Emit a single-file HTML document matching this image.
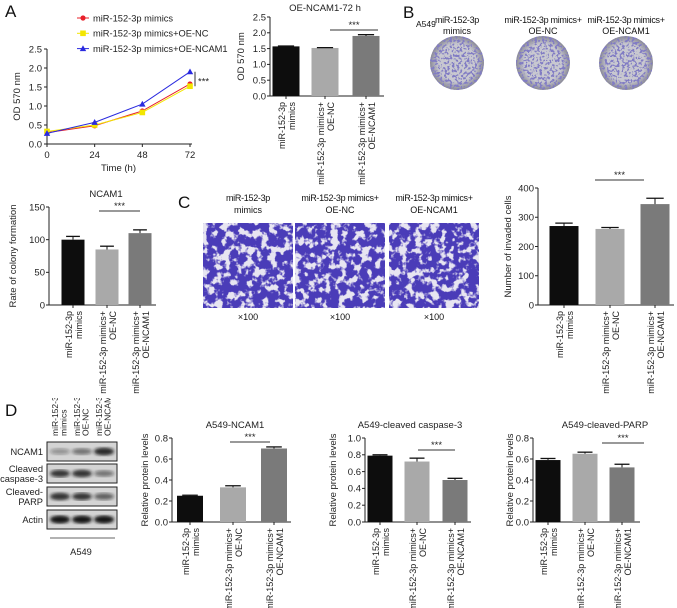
<!DOCTYPE html>
<html><head><meta charset="utf-8"><style>
body{margin:0;background:#fff}
svg{display:block;font-family:"Liberation Sans",Arial,sans-serif}
</style></head><body>
<svg id="fig" width="677" height="608" viewBox="0 0 677 608" xmlns="http://www.w3.org/2000/svg">
<defs>
<filter id="inv" x="0" y="0" width="100%" height="100%">
<feTurbulence type="fractalNoise" baseFrequency="0.13" numOctaves="3" seed="4"/>
<feColorMatrix type="matrix" values="0 0 0 0 0.80  0 0 0 0 0.78  0 0 0 0 0.88  0 0 0 8 -3.9"/>
</filter>
<filter id="dots" x="0" y="0" width="100%" height="100%">
<feTurbulence type="fractalNoise" baseFrequency="0.4" numOctaves="2" seed="7"/>
<feColorMatrix type="matrix" values="0 0 0 0 0.22  0 0 0 0 0.2  0 0 0 0 0.55  0 0 0 12 -6.2"/>
</filter>
<filter id="blur"><feGaussianBlur stdDeviation="1.6"/></filter>
<radialGradient id="dish"><stop offset="0.7" stop-color="#c8c8d0"/><stop offset="1" stop-color="#8a8a96"/></radialGradient>
<clipPath id="c1"><circle cx="457" cy="63" r="27"/></clipPath>
<clipPath id="c2"><circle cx="543" cy="63" r="27"/></clipPath>
<clipPath id="c3"><circle cx="626" cy="63" r="27"/></clipPath>
<clipPath id="blotlab"><rect x="40" y="398" width="90" height="40"/></clipPath>
</defs>
<g id="root"></g>
</svg>
<script>
// ---- data ----
const timeCats = [0, 24, 48, 72];
const lineMimics = [0.30, 0.48, 0.87, 1.58];
const lineOENC = [0.33, 0.50, 0.83, 1.52];
const lineOENCAM1 = [0.28, 0.57, 1.05, 1.90];
const lineYTicks = [0, 0.5, 1.0, 1.5, 2.0, 2.5];

const groupLabels = [["miR-152-3p","mimics"],["miR-152-3p mimics+","OE-NC"],["miR-152-3p mimics+","OE-NCAM1"]];
const od72Values = [1.57, 1.52, 1.90];
const od72Errors = [0.01, 0.01, 0.04];
const od72Ticks = [0, 0.5, 1.0, 1.5, 2.0, 2.5];
const colonyValues = [100, 85, 110];
const colonyErrors = [5, 5, 5];
const colonyTicks = [0, 50, 100, 150];
const invadedValues = [270, 260, 345];
const invadedErrors = [10, 5, 20];
const invadedTicks = [0, 100, 200, 300, 400];
const ncamValues = [0.25, 0.33, 0.70];
const ncamErrors = [0.005, 0.015, 0.015];
const ncamTicks = [0, 0.2, 0.4, 0.6, 0.8];
const caspValues = [0.79, 0.72, 0.50];
const caspErrors = [0.01, 0.04, 0.02];
const caspTicks = [0, 0.2, 0.4, 0.6, 0.8, 1.0];
const parpValues = [0.59, 0.65, 0.52];
const parpErrors = [0.015, 0.015, 0.03];
const parpTicks = [0, 0.2, 0.4, 0.6, 0.8];

const NS = "http://www.w3.org/2000/svg";
const root = document.getElementById("root");
function mk(tag, attrs, parent, txt){
  const e = document.createElementNS(NS, tag);
  for (const k in attrs) e.setAttribute(k, attrs[k]);
  if (txt !== undefined) e.textContent = txt;
  (parent || root).appendChild(e);
  return e;
}
function fmt(v, step){ return step < 1 ? v.toFixed(1) : String(v); }

const barColors = ["#0d0d0d", "#a9a9a9", "#7a7a7a"];
const FS = 9;

function barChart(o){
  const g = mk("g", {});
  
  
  const y = v => o.base - (v / o.max) * (o.base - o.top);
  const step = o.ticks[1] - o.ticks[0];
  const ya = mk("line", {x1:o.ax, y1:o.top, x2:o.ax, y2:o.base, stroke:"#222", "stroke-width":1}, g);
  
  
  const xa = mk("line", {x1:o.ax, y1:o.base, x2:o.axEnd, y2:o.base, stroke:"#222", "stroke-width":1}, g);
  
  
  o.ticks.forEach(t => {
    mk("line", {x1:o.ax-3, y1:y(t), x2:o.ax, y2:y(t), stroke:"#222"}, g);
    const tl = mk("text", {x:o.ax-4, y:y(t)+3.3, "font-size":FS+0.5, "text-anchor":"end", fill:"#222"}, g, fmt(t, step));
    
    
  });
  o.values.forEach((v, i) => {
    const cx = o.cx[i];
    const b = mk("rect", {x:cx-o.w/2, y:y(v), width:o.w, height:o.base-y(v), fill:barColors[i]}, g);
    
    
    const e = o.errs[i];
    mk("line", {x1:cx, y1:y(v), x2:cx, y2:y(v+e), stroke:"#111"}, g);
    mk("line", {x1:cx-o.w*0.3, y1:y(v+e), x2:cx+o.w*0.3, y2:y(v+e), stroke:"#111", "stroke-width":1.3}, g);
    mk("line", {x1:cx, y1:o.base, x2:cx, y2:o.base+3, stroke:"#222"}, g);
    groupLabels[i].forEach((ln, j) => {
      const lx = cx - 1 + j*10;
      const t = mk("text", {x:lx, y:o.base+6, "font-size":FS, "text-anchor":"end", fill:"#222", transform:`rotate(-90 ${lx} ${o.base+6})`}, g, ln);
      
      
    });
  });
  const tt = mk("text", {x:o.titleX, y:o.titleY, "font-size":FS+0.5, "text-anchor":"middle", fill:"#222"}, g, o.title);
  
  
  const yl = mk("text", {x:o.ylx, y:(o.top+o.base)/2, "font-size":FS+0.5, "text-anchor":"middle", fill:"#222", transform:`rotate(-90 ${o.ylx} ${(o.top+o.base)/2})`}, g, o.ylabel);
  
  
  if (o.sig){
    mk("line", {x1:o.sig[0], y1:o.sig[2], x2:o.sig[1], y2:o.sig[2], stroke:"#333"}, g);
    const s = mk("text", {x:(o.sig[0]+o.sig[1])/2, y:o.sig[2]-2, "font-size":FS+0.5, "text-anchor":"middle", fill:"#222"}, g, "***");
    
    
  }
}

function label(txt, x, y, size, name, anchor){
  const t = mk("text", {x:x, y:y, "font-size":size, "text-anchor":anchor||"start", fill:"#111"}, root, txt);
  
  
  return t;
}

// ---- Panel A ----
label("A", 5, 17, 17, "panel-label-a");
(function(){
  const g = mk("g", {});
  
  
  const x0=47, x1=190, b=144, t=49;
  const X = v => x0 + (v/72)*(x1-x0);
  const Y = v => b - (v/2.5)*(b-t);
  mk("line", {x1:x0, y1:t, x2:x0, y2:b, stroke:"#222"}, g);
  mk("line", {x1:x0, y1:b, x2:x1+2, y2:b, stroke:"#222"}, g);
  lineYTicks.forEach(v => {
    mk("line", {x1:x0-3, y1:Y(v), x2:x0, y2:Y(v), stroke:"#222"}, g);
    const tl = mk("text", {x:x0-5, y:Y(v)+3.5, "font-size":9.5, "text-anchor":"end", fill:"#222"}, g, v.toFixed(1));
    
    
  });
  timeCats.forEach(v => {
    mk("line", {x1:X(v), y1:b, x2:X(v), y2:b+3, stroke:"#222"}, g);
    const tl = mk("text", {x:X(v), y:b+14, "font-size":9.5, "text-anchor":"middle", fill:"#222"}, g, String(v));
    
    
  });
  const xt = mk("text", {x:(x0+x1)/2, y:b+27, "font-size":9.5, "text-anchor":"middle", fill:"#222"}, g, "Time (h)");
  
  
  const yt = mk("text", {x:20, y:(t+b)/2, "font-size":9.5, "text-anchor":"middle", fill:"#222", transform:`rotate(-90 20 ${(t+b)/2})`}, g, "OD 570 nm");
  
  
  const series = [[lineMimics,"#e8202a","circle"],[lineOENC,"#f3e600","square"],[lineOENCAM1,"#2a2adf","triangle"]];
  function marker(shape, cx, cy, col, parent){
    if (shape==="circle") return mk("circle", {cx:cx, cy:cy, r:2.6, fill:col}, parent);
    if (shape==="square") return mk("rect", {x:cx-2.8, y:cy-2.8, width:5.6, height:5.6, fill:col}, parent);
    return mk("polygon", {points:`${cx},${cy-3.3} ${cx-3.2},${cy+2.5} ${cx+3.2},${cy+2.5}`, fill:col}, parent);
  }
  series.forEach((s, si) => {
    const pts = s[0].map((v,i) => X(timeCats[i]) + "," + Y(v)).join(" ");
    const pl = mk("polyline", {points:pts, fill:"none", stroke:s[1], "stroke-width":1}, g);
    
    
    s[0].forEach((v,i) => {
      const m = marker(s[2], X(timeCats[i]), Y(v), s[1], g);
      
      
    });
  });
  const names = ["miR-152-3p mimics","miR-152-3p mimics+OE-NC","miR-152-3p mimics+OE-NCAM1"];
  names.forEach((n, i) => {
    const ly = 18 + i*15.3;
    const lg = mk("g", {}, g);
    
    
    mk("line", {x1:77, y1:ly, x2:89, y2:ly, stroke:series[i][1]}, lg);
    marker(series[i][2], 83, ly, series[i][1], lg);
    mk("text", {x:93, y:ly+3.3, "font-size":9.3, fill:"#222"}, lg, n);
  });
  mk("line", {x1:195, y1:Y(1.9), x2:195, y2:Y(1.52), stroke:"#333"}, g);
  const s = mk("text", {x:198, y:Y(1.7)+5, "font-size":9.5, fill:"#222"}, g, "***");
  
  
})();

barChart({name:"od72-bar-chart", ax:270, axEnd:384, base:96, top:17, max:2.5, ticks:od72Ticks, values:od72Values, errs:od72Errors,
  cx:[286,325,366], w:27, title:"OE-NCAM1-72 h", titleX:325, titleY:11, ylabel:"OD 570 nm", ylx:244, sig:[330,378,30]});

// ---- Panel B ----
label("B", 403, 18, 17, "panel-label-b");
label("A549", 416, 27, 8.5, "cell-line-label");
[[457,"miR-152-3p","mimics"],[543,"miR-152-3p mimics+","OE-NC"],[626,"miR-152-3p mimics+","OE-NCAM1"]].forEach((d,i) => {
  label(d[1], d[0], 23, 9, "dish-label", "middle").setAttribute("letter-spacing","-0.3");
  label(d[2], d[0], 34, 9, "dish-label", "middle");
  const g = mk("g", {"clip-path":`url(#c${i+1})`});
  
  
  mk("circle", {cx:d[0], cy:63, r:27, fill:"url(#dish)"}, g);
  mk("rect", {x:d[0]-27, y:36, width:54, height:54, filter:"url(#dots)"}, g);
});

// ---- NCAM1 colony chart ----
barChart({name:"colony-bar-chart", ax:49, axEnd:156, base:305, top:207, max:150, ticks:colonyTicks, values:colonyValues, errs:colonyErrors,
  cx:[73,107,140], w:23, title:"NCAM1", titleX:106, titleY:197, ylabel:"Rate of colony formation", ylx:16, sig:[99,140,211]});

// ---- Panel C ----
label("C", 178, 208, 17, "panel-label-c");
[[248,"miR-152-3p","mimics"],[340,"miR-152-3p mimics+","OE-NC"],[434,"miR-152-3p mimics+","OE-NCAM1"]].forEach((d,i) => {
  label(d[1], d[0], 201, 9, "invasion-label", "middle").setAttribute("letter-spacing","-0.3");
  label(d[2], d[0], 213, 9, "invasion-label", "middle");
  const g = mk("g", {});
  
  
  mk("rect", {x:d[0]-45, y:223, width:90, height:85, fill:"#4a3cb8"}, g);
  mk("rect", {x:d[0]-45, y:223, width:90, height:85, filter:"url(#inv)"}, g);
  label("×100", d[0], 320, 9, "magnification-label", "middle");
});

barChart({name:"invaded-cells-bar-chart", ax:538, axEnd:674, base:305, top:188, max:400, ticks:invadedTicks, values:invadedValues, errs:invadedErrors,
  cx:[564,610,655], w:29, title:"", titleX:600, titleY:180, ylabel:"Number of invaded cells", ylx:511, sig:[595,644,180]});

// ---- Panel D ----
label("D", 5, 416, 17, "panel-label-d");
(function(){
  const g = mk("g", {});
  
  
  const cols = [60, 82, 104];
  const colLab = [["miR-152-3p","mimics"],["miR-152-3p mimics+","OE-NC"],["miR-152-3p mimics+","OE-NCAM1"]];
  const lg = mk("g", {"clip-path":"url(#blotlab)"}, g);
  colLab.forEach((c, i) => {
    c.forEach((ln, j) => {
      const lx = cols[i] - 2 + j*8.5;
      mk("text", {x:lx, y:436, "font-size":8.5, fill:"#222", "text-anchor":"start", transform:`rotate(-90 ${lx} 436)`}, lg, ln);
    });
  });
  const rows = [["NCAM1",442],["Cleaved|caspase-3",464],["Cleaved-|PARP",487],["Actin",510]];
  const intens = [[0.35,0.5,0.9],[0.8,0.85,0.5],[0.85,0.8,0.6],[1,1,1]];
  rows.forEach((r, ri) => {
    const lines = r[0].split("|");
    lines.forEach((ln, j) => {
      mk("text", {x:43, y:r[1] + 13 - (lines.length-1)*5 + j*10, "font-size":9.3, "text-anchor":"end", fill:"#222"}, g, ln);
    });
    mk("rect", {x:47, y:r[1], width:70, height:19, fill:"#d4d4d4", stroke:"#222", "stroke-width":1}, g);
    cols.forEach((cx, ci) => {
      const a = intens[ri][ci];
      mk("ellipse", {cx:cx, cy:r[1]+9.5, rx:10, ry:2.5+a*1.5, fill:`rgba(20,20,20,${a})`, filter:"url(#blur)"}, g);
    });
  });
  mk("line", {x1:50, y1:538, x2:115, y2:538, stroke:"#666"}, g);
  mk("text", {x:81, y:555, "font-size":9.3, "text-anchor":"middle", fill:"#222"}, g, "A549");
})();

barChart({name:"ncam1-protein-bar-chart", ax:172, axEnd:291, base:522, top:438, max:0.8, ticks:ncamTicks, values:ncamValues, errs:ncamErrors,
  cx:[190,233,274], w:26, title:"A549-NCAM1", titleX:235, titleY:428, ylabel:"Relative protein levels", ylx:148, sig:[230,270,442]});
barChart({name:"caspase3-bar-chart", ax:365, axEnd:471, base:522, top:438, max:1.0, ticks:caspTicks, values:caspValues, errs:caspErrors,
  cx:[380,417,455], w:25, title:"A549-cleaved caspase-3", titleX:410, titleY:428, ylabel:"Relative protein levels", ylx:336, sig:[418,455,450]});
barChart({name:"parp-bar-chart", ax:533, axEnd:640, base:522, top:438, max:0.8, ticks:parpTicks, values:parpValues, errs:parpErrors,
  cx:[548,585,622], w:25, title:"A549-cleaved-PARP", titleX:605, titleY:428, ylabel:"Relative protein levels", ylx:513, sig:[602,644,443]});
</script>
</body></html>
